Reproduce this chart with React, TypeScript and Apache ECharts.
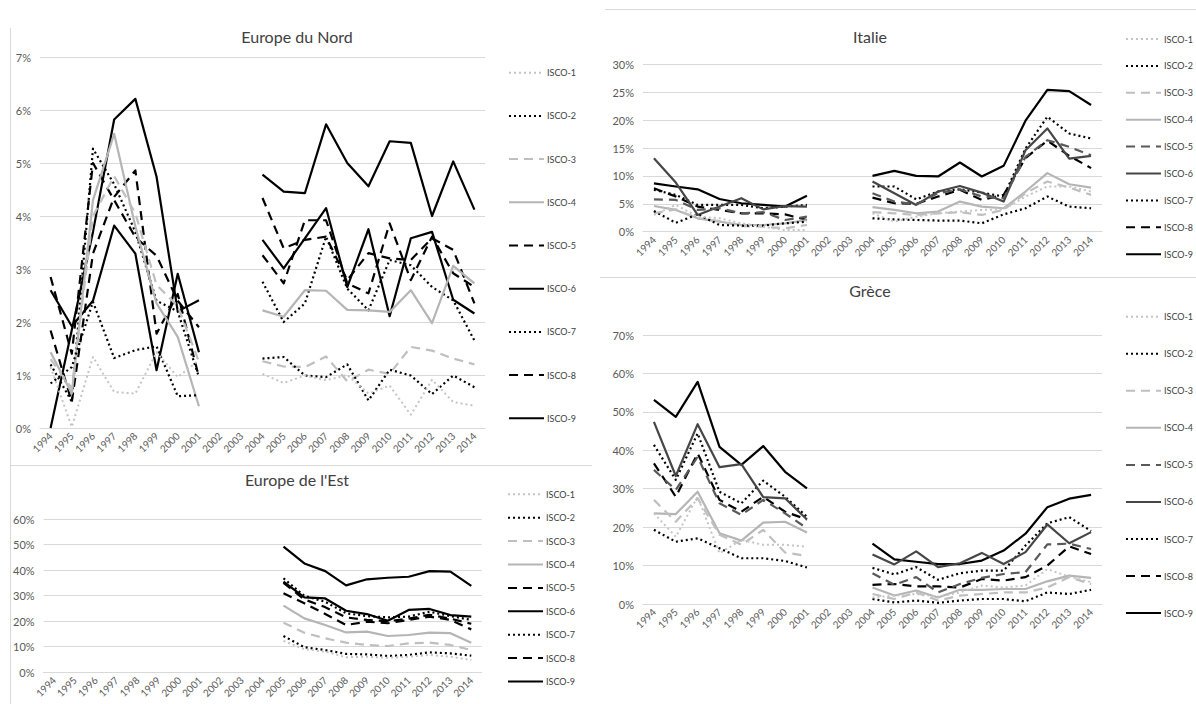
import React, { useEffect, useRef } from 'react';
import * as echarts from 'echarts';

const YEARS = ['1994','1995','1996','1997','1998','1999','2000','2001','2002','2003','2004','2005','2006','2007','2008','2009','2010','2011','2012','2013','2014'];
const ISCO_NAMES = ['ISCO-1','ISCO-2','ISCO-3','ISCO-4','ISCO-5','ISCO-6','ISCO-7','ISCO-8','ISCO-9'];
const _ = null;

// Europe du Nord (%)
const NORD_1 = [1.15,0.02,1.34,0.68,0.65,1.43,0.96,1.28,_,_,1.02,0.85,0.99,0.9,1.0,0.65,0.8,0.25,0.91,0.49,0.42];
const NORD_2 = [0.84,1.15,2.38,1.32,1.47,1.54,0.6,0.62,_,_,1.31,1.34,0.99,0.96,1.2,0.52,1.1,0.99,0.64,0.99,0.77];
const NORD_3 = [1.3,0.75,4.0,4.75,4.05,2.7,2.3,1.25,_,_,1.26,1.16,1.15,1.35,0.88,1.1,1.02,1.53,1.46,1.31,1.2];
const NORD_4 = [1.43,0.65,4.3,5.55,3.8,2.35,1.72,0.41,_,_,2.22,2.1,2.6,2.59,2.23,2.22,2.19,2.6,1.98,3.06,2.73];
const NORD_5 = [2.85,1.4,5.0,4.3,3.6,3.25,2.4,1.9,_,_,4.34,3.39,3.55,3.61,2.79,3.3,3.2,3.17,3.58,3.36,2.35];
const NORD_6 = [2.6,1.92,2.4,3.82,3.29,1.09,2.91,1.43,_,_,3.55,3.01,3.58,4.15,2.66,3.75,2.11,3.58,3.7,2.42,2.16];
const NORD_7 = [1.2,0.5,5.27,4.6,3.7,2.4,2.2,0.96,_,_,2.76,2.0,2.35,3.61,2.63,2.22,3.17,3.07,2.66,2.41,1.65];
const NORD_8 = [1.84,0.49,3.29,4.36,4.86,1.78,2.53,0.96,_,_,3.26,2.73,3.92,3.92,2.73,2.54,3.86,2.79,3.61,2.92,2.66];
const NORD_9 = [0,1.85,3.7,5.82,6.21,4.74,2.2,2.41,_,_,4.78,4.46,4.43,5.73,5.0,4.56,5.41,5.38,4.0,5.03,4.12];

// Italie (%)
const IT_1 = [3.0,4.8,2.7,2.4,1.5,0.9,0.3,0.3,_,_,3.3,1.8,2.7,3.3,3.6,3.9,4.0,6.3,8.1,8.1,7.2];
const IT_2 = [3.7,1.6,3.1,1.2,1.1,1.1,1.5,1.8,_,_,2.4,2.2,2.1,2.0,2.0,1.5,3.1,4.2,6.3,4.5,4.2];
const IT_3 = [3.3,4.0,2.4,1.9,1.0,0.9,0.6,1.2,_,_,3.5,3.3,3.0,3.3,3.5,3.0,3.9,6.9,9.0,7.9,6.6];
const IT_4 = [4.6,3.9,2.4,1.8,1.2,1.2,1.5,2.1,_,_,4.4,3.9,3.3,3.6,5.4,4.5,4.2,7.2,10.5,8.5,7.9];
const IT_5 = [5.8,5.7,3.9,4.2,3.3,3.5,2.1,2.7,_,_,6.9,5.4,4.9,6.9,7.6,6.3,6.0,13.4,16.4,15.2,13.7];
const IT_6 = [13.15,8.8,3.0,4.5,6.0,4.0,4.6,4.5,_,_,9.0,6.9,4.8,7.2,8.2,7.0,5.4,14.6,18.5,13.1,13.6];
const IT_7 = [7.5,6.6,4.8,4.8,4.8,4.2,4.5,4.8,_,_,8.1,8.1,5.8,7.2,7.6,7.0,6.3,14.9,20.6,17.6,16.7];
const IT_8 = [7.77,6.3,4.5,3.9,3.3,3.3,3.1,2.1,_,_,6.1,5.1,5.0,6.3,7.5,5.7,6.6,13.2,16.3,13.6,11.4];
const IT_9 = [8.67,8.1,7.6,5.86,5.1,4.8,4.5,6.46,_,_,10.0,10.9,10.0,9.9,12.4,9.9,11.8,19.9,25.4,25.2,22.7];

// Grèce (%)
const GR_1 = [23.6,17.5,27.9,13.2,16.7,15.4,15.4,14.9,_,_,1.7,2.2,2.6,1.9,3.0,4.8,4.3,4.8,9.1,7.1,5.7];
const GR_2 = [19.3,16.2,17.1,14.5,11.9,11.9,11.2,9.5,_,_,1.3,0.4,0.9,0.3,0.9,1.3,1.3,0.7,3.0,2.6,3.7];
const GR_3 = [27.1,21.4,27.5,18.0,15.4,19.3,13.4,12.5,_,_,2.6,1.3,3.0,0.9,2.2,2.6,3.0,3.0,4.3,7.0,5.2];
const GR_4 = [23.6,23.4,29.2,18.4,16.5,21.2,21.4,18.6,_,_,4.3,2.2,3.5,1.7,3.7,3.7,3.9,3.9,5.9,7.4,6.8];
const GR_5 = [34.9,29.7,38.3,26.2,23.2,27.1,23.6,19.7,_,_,8.0,5.0,7.0,3.0,5.2,6.8,7.8,8.3,15.5,15.7,14.3];
const GR_6 = [47.4,33.3,46.8,35.6,36.4,27.8,27.5,22.0,_,_,12.9,10.3,13.7,9.6,10.6,13.3,10.4,13.5,20.7,15.8,18.7];
const GR_7 = [41.4,32.3,44.4,29.2,26.2,32.1,27.9,22.7,_,_,9.4,7.7,9.6,6.3,8.0,8.7,8.7,15.2,21.0,22.6,19.0];
const GR_8 = [36.6,27.9,39.2,27.1,24.0,27.9,24.0,22.0,_,_,5.0,5.2,4.6,4.6,4.3,6.5,6.1,7.0,10.0,15.0,13.0];
const GR_9 = [53.1,48.7,57.8,40.9,36.2,41.1,34.4,30.1,_,_,15.7,11.6,11.0,10.4,10.4,11.3,13.9,18.3,25.2,27.4,28.4];

// Europe de l'Est (%), 1994-2004 missing
const EST_GAP = [_,_,_,_,_,_,_,_,_,_,_];
const EST_1 = [...EST_GAP,12.3,9.0,8.1,5.9,6.1,5.7,6.1,6.8,6.1,4.8];
const EST_2 = [...EST_GAP,14.2,9.8,8.7,7.2,7.0,6.4,6.8,7.8,7.4,6.5];
const EST_3 = [...EST_GAP,19.4,15.5,13.3,11.6,10.7,10.3,11.3,11.6,10.7,8.7];
const EST_4 = [...EST_GAP,26.1,21.1,18.5,15.6,15.9,14.2,14.6,15.5,15.3,11.6];
const EST_5 = [...EST_GAP,35.0,28.5,25.5,21.5,20.5,20.0,21.0,22.5,21.0,19.0];
const EST_6 = [...EST_GAP,35.5,29.3,28.9,24.1,22.8,20.2,24.4,24.8,22.4,21.8];
const EST_7 = [...EST_GAP,36.8,29.9,27.6,23.1,22.0,21.5,21.8,23.7,22.0,20.5];
const EST_8 = [...EST_GAP,30.9,27.0,22.8,18.5,19.8,19.2,20.5,21.8,20.5,16.8];
const EST_9 = [...EST_GAP,49.2,42.6,39.6,34.0,36.4,37.0,37.4,39.6,39.4,33.8];

const FONT = 'Lato, "Liberation Sans", sans-serif';
const DOT = [2, 3];
const DASH = [9, 6];

type LS = { color: string; type: any; width: number };
const STYLE_DARK: LS[] = [
  { color: '#c4c4c4', type: DOT, width: 2 },
  { color: '#000000', type: DOT, width: 2.2 },
  { color: '#bfbfbf', type: DASH, width: 2.2 },
  { color: '#b5b5b5', type: 'solid', width: 2.2 },
  { color: '#000000', type: DASH, width: 2.2 },
  { color: '#000000', type: 'solid', width: 2.2 },
  { color: '#000000', type: DOT, width: 2.2 },
  { color: '#000000', type: DASH, width: 2.2 },
  { color: '#000000', type: 'solid', width: 2.2 },
];
const STYLE_SOUTH: LS[] = STYLE_DARK.map((s, i) =>
  i === 4 ? { ...s, color: '#595959' } : i === 5 ? { ...s, color: '#464646' } : s
);

type Panel = {
  x: number; y: number; w: number; h: number;
  title: string; titleX: number; titleY: number;
  gl: number; gt: number; gr: number; gb: number;
  max: number; interval: number;
  legX: number; legY: number; legStep: number;
  series: (number | null)[][];
  styles: LS[];
};

const PANELS: Panel[] = [
  {
    x: 10, y: 0, w: 585, h: 466, title: 'Europe du Nord', titleX: 297, titleY: 28,
    gl: 40, gt: 57, gr: 485, gb: 428, max: 7, interval: 1,
    legX: 508, legY: 72.7, legStep: 43.2,
    series: [NORD_1, NORD_2, NORD_3, NORD_4, NORD_5, NORD_6, NORD_7, NORD_8, NORD_9], styles: STYLE_DARK,
  },
  {
    x: 600, y: 10, w: 596, h: 268, title: 'Italie', titleX: 870, titleY: 28,
    gl: 643, gt: 64.3, gr: 1102, gb: 231.7, max: 30, interval: 5,
    legX: 1125, legY: 39, legStep: 26.9,
    series: [IT_1, IT_2, IT_3, IT_4, IT_5, IT_6, IT_7, IT_8, IT_9], styles: STYLE_SOUTH,
  },
  {
    x: 600, y: 278, w: 596, h: 426, title: 'Grèce', titleX: 870, titleY: 282,
    gl: 643, gt: 335, gr: 1102, gb: 604, max: 70, interval: 10,
    legX: 1125, legY: 316.7, legStep: 37.05,
    series: [GR_1, GR_2, GR_3, GR_4, GR_5, GR_6, GR_7, GR_8, GR_9], styles: STYLE_SOUTH,
  },
  {
    x: 10, y: 466, w: 585, h: 238, title: "Europe de l'Est", titleX: 297, titleY: 471,
    gl: 43.3, gt: 519, gr: 481.7, gb: 672.3, max: 60, interval: 10,
    legX: 507, legY: 494.3, legStep: 23.4,
    series: [EST_1, EST_2, EST_3, EST_4, EST_5, EST_6, EST_7, EST_8, EST_9], styles: STYLE_DARK,
  },
];

function buildOption(p: Panel): any {
  const itemH = 12;
  return {
    animation: false,
    backgroundColor: 'transparent',
    textStyle: { fontFamily: FONT },
    title: {
      text: p.title,
      left: p.titleX - p.x,
      top: p.titleY - p.y,
      textAlign: 'center',
      padding: 0,
      textStyle: { fontFamily: FONT, fontSize: 16, fontWeight: 'normal', color: '#404040' },
    },
    legend: {
      orient: 'vertical',
      left: p.legX - p.x,
      top: p.legY - p.y - itemH / 2,
      itemWidth: 35,
      itemHeight: itemH,
      itemGap: p.legStep - itemH,
      padding: 0,
      data: ISCO_NAMES,
      itemStyle: { opacity: 0 },
      textStyle: { fontFamily: FONT, fontSize: 9, color: '#404040', lineHeight: itemH, padding: [0, 0, 0, -2] },
    },
    grid: {
      left: p.gl - p.x,
      top: p.gt - p.y,
      width: p.gr - p.gl,
      height: p.gb - p.gt,
      containLabel: false,
    },
    xAxis: {
      type: 'category',
      data: YEARS,
      boundaryGap: true,
      axisLine: { show: true, lineStyle: { color: '#d9d9d9', width: 1 } },
      axisTick: { show: false },
      axisLabel: { rotate: 45, fontSize: 10, color: '#595959', fontFamily: FONT, interval: 0, margin: 6 },
      splitLine: { show: false },
    },
    yAxis: {
      type: 'value',
      min: 0,
      max: p.max,
      interval: p.interval,
      axisLine: { show: false },
      axisTick: { show: false },
      axisLabel: { formatter: '{value}%', fontSize: 11, color: '#595959', fontFamily: FONT, margin: 9 },
      splitLine: { show: true, lineStyle: { color: '#d9d9d9', width: 1 } },
    },
    series: p.series.map((d, i) => ({
      name: ISCO_NAMES[i],
      type: 'line',
      data: d,
      symbol: 'none',
      connectNulls: false,
      z: 10 - i,
      lineStyle: { color: p.styles[i].color, type: p.styles[i].type, width: p.styles[i].width, cap: 'butt', join: 'round' },
      itemStyle: { color: p.styles[i].color },
    })),
  };
}

function ChartPanel({ p }: { p: Panel }) {
  const ref = useRef<HTMLDivElement>(null);
  useEffect(() => {
    const chart = echarts.init(ref.current as HTMLDivElement, null, { renderer: 'svg' });
    chart.setOption(buildOption(p));
    return () => chart.dispose();
  }, []);
  return <div ref={ref} style={{ position: 'absolute', left: p.x, top: p.y, width: p.w, height: p.h }} />;
}

const lineStyle = (l: number, t: number, w: number, h: number): React.CSSProperties => ({
  position: 'absolute', left: l, top: t, width: w, height: h, background: '#d9d9d9',
});

export default function App() {
  return (
    <div style={{ position: 'absolute', left: 0, top: 0, width: 1196, height: 704, background: '#ffffff', overflow: 'hidden' }}>
      <div style={lineStyle(10, 28, 1, 676)} />
      <div style={lineStyle(10, 465, 582, 1)} />
      <div style={lineStyle(605, 9, 591, 1)} />
      <div style={lineStyle(600, 277, 596, 1)} />
      {PANELS.map((p, i) => <ChartPanel key={i} p={p} />)}
    </div>
  );
}
